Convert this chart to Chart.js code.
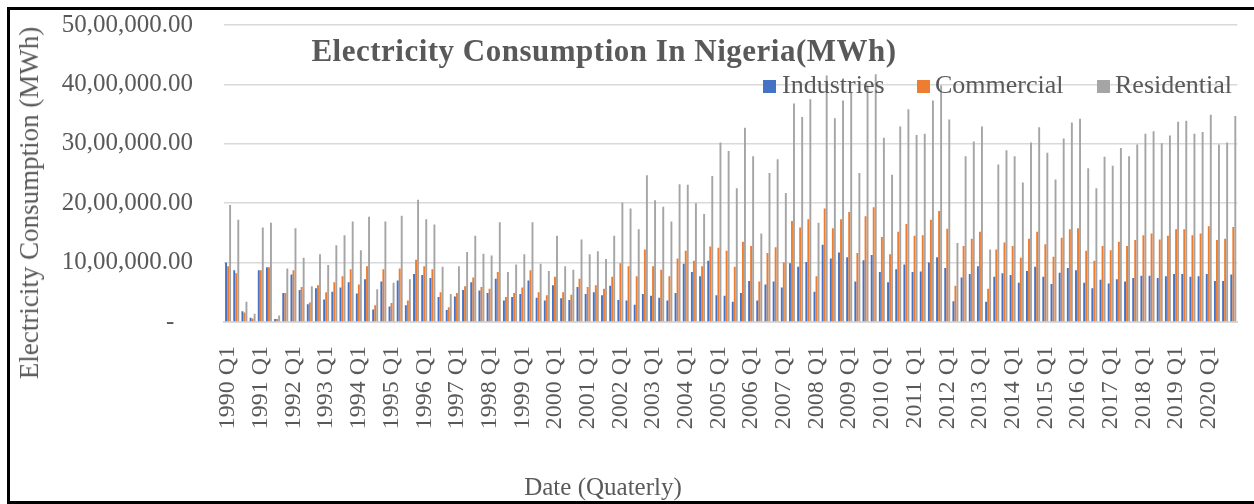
<!DOCTYPE html>
<html>
<head>
<meta charset="utf-8">
<title>Electricity Consumption In Nigeria</title>
<script src="https://cdn.jsdelivr.net/npm/chart.js@4.4.0/dist/chart.umd.min.js"></script>
<style>
  body { margin: 0; background: #fff; }
  #wrap {
    position: relative; width: 1254px; height: 504px; overflow: hidden;
    font-family: 'Liberation Serif', 'Times New Roman', serif; color: #595959;
  }
  /* chart.js keeps ~44px above the plot, so the canvas is shifted up to put the top gridline at y=23 */
  #myChart { position: absolute; left: 0; top: -21px; }
  #frame {
    position: absolute; left: 7px; top: 7px; width: 1270px; height: 497px;
    border: 3px solid #000; box-sizing: border-box;
  }
  .title {
    position: absolute; left: 604px; top: 35px; transform: translateX(-50%);
    font-size: 31px; line-height: 31px; font-weight: bold; letter-spacing: 0.5px;
    white-space: nowrap;
  }
  .legend-box { position: absolute; top: 80px; width: 13px; height: 13px; }
  .legend-text { position: absolute; top: 72px; font-size: 26px; line-height: 26px; white-space: nowrap; }
  .y-title {
    position: absolute; left: 29px; top: 203px; transform: translate(-50%, -50%) rotate(-90deg);
    font-size: 27px; line-height: 30px; white-space: nowrap;
  }
  .x-title {
    position: absolute; left: 603px; top: 487px; transform: translate(-50%, -50%);
    font-size: 25px; line-height: 30px; white-space: nowrap;
  }
</style>
</head>
<body>
<div id="wrap">
  <canvas id="myChart" width="1254" height="525"></canvas>
  <div class="title">Electricity Consumption In Nigeria(MWh)</div>
  <div class="legend-box" style="left:763px; background:#4472C4"></div>
  <div class="legend-text" style="left:782px">Industries</div>
  <div class="legend-box" style="left:917px; background:#ED7D31"></div>
  <div class="legend-text" style="left:935px">Commercial</div>
  <div class="legend-box" style="left:1097px; background:#A5A5A5"></div>
  <div class="legend-text" style="left:1115px">Residential</div>
  <div class="y-title">Electricity Consumption (MWh)</div>
  <div class="x-title">Date (Quaterly)</div>
  <div id="frame"></div>
</div>
<script>
// Quarterly electricity consumption (MWh), 1990 Q1 - 2020 Q4
const firstYear = 1990
const lastYear = 2020
const quarters = ['Q1', 'Q2', 'Q3', 'Q4']

const industries = [
  1000000, 870000, 180000, 70000,
  870000, 920000, 50000, 490000,
  800000, 540000, 300000, 570000,
  380000, 510000, 580000, 670000,
  480000, 720000, 210000, 680000,
  260000, 700000, 280000, 810000,
  790000, 740000, 420000, 200000,
  430000, 540000, 670000, 530000,
  490000, 730000, 360000, 420000,
  470000, 700000, 410000, 360000,
  620000, 400000, 370000, 590000,
  470000, 500000, 450000, 610000,
  370000, 360000, 290000, 470000,
  440000, 410000, 360000, 490000,
  980000, 840000, 770000, 1030000,
  450000, 440000, 340000, 490000,
  690000, 360000, 630000, 680000,
  580000, 990000, 930000, 1010000,
  510000, 1300000, 1070000, 1170000,
  1090000, 680000, 1040000, 1130000,
  840000, 670000, 890000, 970000,
  840000, 850000, 1000000, 1090000,
  910000, 350000, 750000, 810000,
  940000, 340000, 760000, 820000,
  790000, 660000, 860000, 930000,
  760000, 640000, 830000, 910000,
  870000, 660000, 570000, 710000,
  650000, 720000, 680000, 740000,
  780000, 780000, 740000, 770000,
  810000, 810000, 760000, 770000,
  810000, 690000, 690000, 800000
]

const commercial = [
  940000, 820000, 160000, 60000,
  870000, 920000, 50000, 490000,
  870000, 590000, 330000, 620000,
  500000, 670000, 770000, 890000,
  630000, 940000, 280000, 890000,
  320000, 900000, 360000, 1050000,
  940000, 890000, 500000, 250000,
  490000, 600000, 750000, 590000,
  560000, 840000, 420000, 490000,
  580000, 870000, 500000, 450000,
  760000, 500000, 460000, 730000,
  590000, 620000, 560000, 760000,
  990000, 940000, 770000, 1220000,
  940000, 880000, 770000, 1070000,
  1200000, 1030000, 940000, 1270000,
  1250000, 1200000, 930000, 1350000,
  1280000, 680000, 1160000, 1260000,
  1000000, 1700000, 1590000, 1730000,
  770000, 1910000, 1580000, 1730000,
  1850000, 1160000, 1780000, 1930000,
  1430000, 1140000, 1520000, 1650000,
  1450000, 1460000, 1720000, 1870000,
  1570000, 610000, 1280000, 1400000,
  1520000, 560000, 1220000, 1340000,
  1280000, 1080000, 1400000, 1520000,
  1310000, 1100000, 1420000, 1560000,
  1580000, 1200000, 1030000, 1280000,
  1210000, 1350000, 1280000, 1380000,
  1460000, 1490000, 1390000, 1450000,
  1560000, 1560000, 1460000, 1490000,
  1610000, 1380000, 1400000, 1600000
]

const residential = [
  1970000, 1720000, 340000, 140000,
  1590000, 1670000, 110000, 900000,
  1580000, 1080000, 600000, 1140000,
  960000, 1290000, 1460000, 1690000,
  1210000, 1770000, 550000, 1690000,
  660000, 1790000, 720000, 2060000,
  1730000, 1640000, 930000, 470000,
  940000, 1180000, 1450000, 1150000,
  1120000, 1680000, 840000, 970000,
  1140000, 1680000, 980000, 860000,
  1450000, 940000, 880000, 1390000,
  1140000, 1190000, 1060000, 1450000,
  2010000, 1910000, 1560000, 2470000,
  2050000, 1940000, 1690000, 2320000,
  2310000, 2000000, 1820000, 2460000,
  3020000, 2880000, 2250000, 3270000,
  2790000, 1490000, 2510000, 2740000,
  2170000, 3680000, 3450000, 3750000,
  1670000, 4150000, 3430000, 3730000,
  3870000, 2510000, 3980000, 4170000,
  3100000, 2480000, 3290000, 3580000,
  3150000, 3170000, 3730000, 3980000,
  3410000, 1330000, 2790000, 3040000,
  3290000, 1220000, 2650000, 2890000,
  2790000, 2350000, 3020000, 3280000,
  2850000, 2400000, 3090000, 3360000,
  3420000, 2590000, 2250000, 2780000,
  2630000, 2930000, 2790000, 2990000,
  3170000, 3210000, 3010000, 3140000,
  3370000, 3390000, 3170000, 3200000,
  3490000, 2990000, 3020000, 3470000
]

const yMax = 5000000
const yStep = 1000000

let labels = []
for (let y = firstYear; y <= lastYear; y++) {
  quarters.forEach((q) => labels.push(y + ' ' + q))
}

// 50,00,000.00 style (Indian grouping), zero shown as a dash like the accounting format
function indianFormat(value) {
  if (value === 0) {
    return '-   '
  }
  let s = Math.round(value).toString()
  let last3 = s.slice(-3)
  let rest = s.slice(0, -3)
  if (rest) {
    last3 = ',' + last3
  }
  rest = rest.replace(/\B(?=(\d{2})+(?!\d))/g, ',')
  return rest + last3 + '.00'
}

const textColor = '#595959'
const gridColor = '#d9d9d9'

const ctx = document.getElementById('myChart')
const myChart = new Chart(ctx, {
  type: 'bar',
  data: {
    labels: labels,
    datasets: [{
      label: 'Industries',
      data: industries,
      backgroundColor: '#4472C4'
    },
    {
      label: 'Commercial',
      data: commercial,
      backgroundColor: '#ED7D31'
    },
    {
      label: 'Residential',
      data: residential,
      backgroundColor: '#A5A5A5'
    }]
  },
  options: {
    responsive: false,
    animation: false,
    datasets: {
      bar: {
        categoryPercentage: 0.74,
        barPercentage: 0.95,
        borderWidth: 0
      }
    },
    layout: {
      padding: { left: 0, top: 2, right: 15, bottom: 0 }
    },
    scales: {
      x: {
        grid: { display: false },
        border: { color: gridColor, width: 2 },
        ticks: {
          autoSkip: false,
          minRotation: 90,
          maxRotation: 90,
          padding: 16,
          color: textColor,
          font: { family: 'Liberation Serif', size: 24 },
          callback: function(value, index) {
            return index % 4 === 0 ? this.getLabelForValue(value) : null
          }
        },
        afterFit: function(scale) {
          scale.height = 182
        }
      },
      y: {
        min: 0,
        max: yMax,
        border: { display: false },
        grid: { color: gridColor, lineWidth: 1.5, drawTicks: false },
        ticks: {
          stepSize: yStep,
          padding: 31,
          color: textColor,
          font: { family: 'Liberation Serif', size: 25 },
          callback: function(value) {
            return indianFormat(value)
          }
        },
        afterFit: function(scale) {
          scale.width = 224
        }
      }
    },
    plugins: {
      legend: { display: false },
      title: { display: false },
      tooltip: { enabled: false }
    }
  }
})
</script>
</body>
</html>
